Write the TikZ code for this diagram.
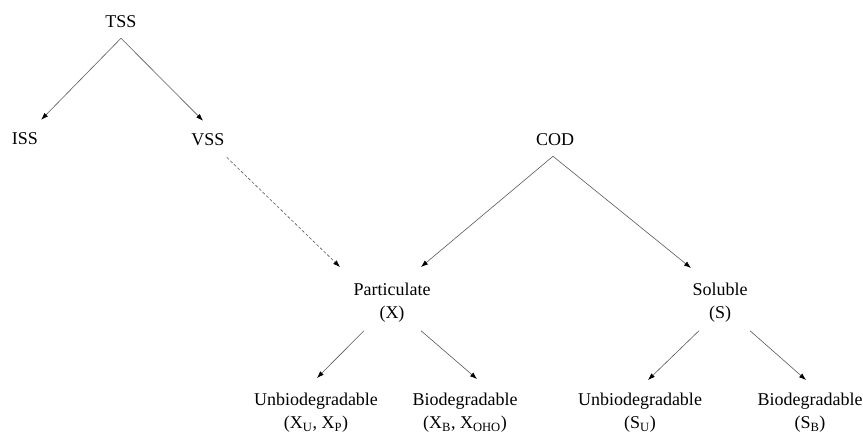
\documentclass[tikz,border=0pt]{standalone}
\usepackage{fontspec}
\setmainfont{Liberation Serif}
\usetikzlibrary{arrows.meta}
\newcommand{\drawlink}{\draw[line width=0.6pt, black!65, -{Latex[length=7pt,width=5pt,color=black]}]}
\newcommand{\drawdashlink}{\drawlink[densely dashed]}
\tikzset{term/.style={inner sep=0pt, font=\fontsize{18}{23}\selectfont, align=center}}

\begin{document}
\begin{tikzpicture}[x=1pt,y=-1pt]
\useasboundingbox (0,0) rectangle (863,434);
% solids
\node[term] (tss) at (121,22) {TSS};
\node[term] (iss) at (25,139) {ISS};
\node[term] (vss) at (208,140) {VSS};
\drawlink ([yshift=-10pt]tss.south) -- ([xshift=3pt,yshift=13pt]iss.north east);
\drawlink ([yshift=-10pt]tss.south) -- ([xshift=-5pt,yshift=13pt]vss.north);
% COD fractions
\node[term] (cod) at (555,140) {COD};
\node[term,anchor=north] (part) at (392,283) {Particulate\\(X)};
\node[term,anchor=north] (sol) at (720,283) {Soluble\\(S)};
\drawdashlink ([xshift=2pt,yshift=-11pt]vss.south east) -- ([xshift=-52pt,yshift=16pt]part.north);
\drawlink ([xshift=-2pt,yshift=-10pt]cod.south) -- ([xshift=29pt,yshift=16pt]part.north);
\drawlink ([xshift=-2pt,yshift=-10pt]cod.south) -- ([xshift=-29pt,yshift=15pt]sol.north);
% bottom row
\node[term,anchor=north] (ux) at (316,393) {Unbiodegradable\\(X\textsubscript{U}, X\textsubscript{P})};
\node[term,anchor=north] (bx) at (465,393) {Biodegradable\\(X\textsubscript{B}, X\textsubscript{OHO})};
\node[term,anchor=north] (us) at (640,393) {Unbiodegradable\\(S\textsubscript{U})};
\node[term,anchor=north] (bs) at (810,393) {Biodegradable\\(S\textsubscript{B})};
\drawlink ([xshift=-28pt,yshift=-8pt]part.south) -- ([xshift=1pt,yshift=15pt]ux.north);
\drawlink ([xshift=29pt,yshift=-8pt]part.south) -- ([xshift=12pt,yshift=14pt]bx.north);
\drawlink ([xshift=-21pt,yshift=-8pt]sol.south) -- ([xshift=8pt,yshift=13pt]us.north);
\drawlink ([xshift=30pt,yshift=-8pt]sol.south) -- ([xshift=-4pt,yshift=13pt]bs.north);
\end{tikzpicture}
\end{document}
